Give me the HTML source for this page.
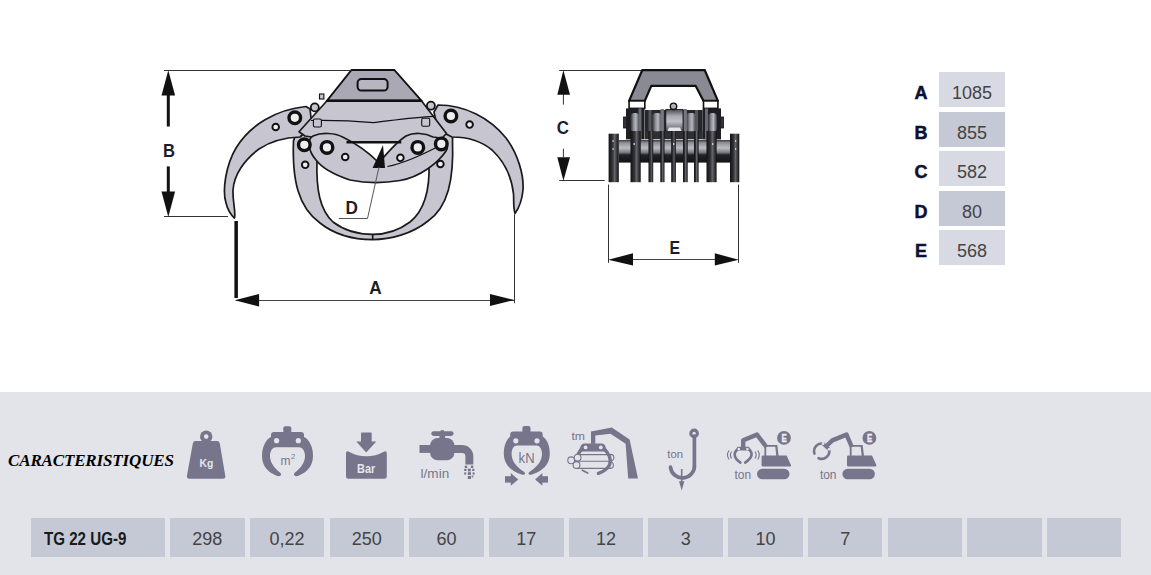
<!DOCTYPE html>
<html><head><meta charset="utf-8">
<style>
html,body{margin:0;padding:0;width:1151px;height:575px;overflow:hidden;background:#fff;font-family:"Liberation Sans",sans-serif;}
#wrap{position:relative;width:1151px;height:575px;}
.abs{position:absolute;}
#band{left:0;top:392px;width:1151px;height:183px;background:#e3e4e9;}
.cell{position:absolute;top:518px;height:39px;background:#c5c9d6;color:#444;font-size:18px;line-height:42px;text-align:center;}
.dim{position:absolute;left:939px;width:66px;height:35px;line-height:43px;text-align:center;font-size:18px;color:#444;}
.dl{position:absolute;left:912px;width:18px;height:35px;line-height:43px;text-align:center;font-size:18px;font-weight:bold;color:#0d1030;-webkit-text-stroke:0.5px #0d1030;}
#title{left:8px;top:450.5px;font:italic bold 17px "Liberation Serif",serif;color:#000;letter-spacing:-0.15px;white-space:nowrap;}
svg{position:absolute;left:0;top:0;}
</style></head>
<body><div id="wrap">
<div id="band" class="abs"></div>

<!-- dimension table -->
<div class="dl" style="top:72px">A</div><div class="dim" style="top:72px;background:#d8dae3">1085</div>
<div class="dl" style="top:111.5px">B</div><div class="dim" style="top:111.5px;background:#c5c9d6">855</div>
<div class="dl" style="top:151px">C</div><div class="dim" style="top:151px;background:#d8dae3">582</div>
<div class="dl" style="top:190.5px">D</div><div class="dim" style="top:190.5px;background:#c5c9d6">80</div>
<div class="dl" style="top:230px">E</div><div class="dim" style="top:230px;background:#d8dae3">568</div>

<div id="title" class="abs">CARACTERISTIQUES</div>

<!-- bottom table -->
<div class="cell" style="left:31px;width:134px;text-align:left;"><span style="display:inline-block;margin-left:13px;font-weight:bold;color:#1a1a1a;transform:scaleX(0.84);transform-origin:left center;">TG 22 UG-9</span></div>
<div class="cell" style="left:170px;width:74.7px">298</div>
<div class="cell" style="left:249.7px;width:74.7px">0,22</div>
<div class="cell" style="left:329.5px;width:74.7px">250</div>
<div class="cell" style="left:409.2px;width:74.7px">60</div>
<div class="cell" style="left:488.9px;width:74.7px">17</div>
<div class="cell" style="left:568.6px;width:74.7px">12</div>
<div class="cell" style="left:648.4px;width:74.7px">3</div>
<div class="cell" style="left:728.1px;width:74.7px">10</div>
<div class="cell" style="left:807.8px;width:74.7px">7</div>
<div class="cell" style="left:887.5px;width:74.7px"></div>
<div class="cell" style="left:967.3px;width:74.7px"></div>
<div class="cell" style="left:1047px;width:74px"></div>

<!-- DRAWINGS -->
<svg width="1151" height="392" viewBox="0 0 1151 392" id="draw">
<defs>
<linearGradient id="cyl" x1="0" y1="0" x2="0" y2="1">
<stop offset="0" stop-color="#3a3a40"/><stop offset="0.12" stop-color="#8e8e96"/><stop offset="0.35" stop-color="#bcbcc4"/><stop offset="0.55" stop-color="#7a7a82"/><stop offset="0.66" stop-color="#222226"/><stop offset="1" stop-color="#141418"/>
</linearGradient>
<linearGradient id="tooth" x1="0" y1="0" x2="1" y2="0">
<stop offset="0" stop-color="#111"/><stop offset="0.45" stop-color="#3a3a40"/><stop offset="0.55" stop-color="#6a6a72"/><stop offset="1" stop-color="#111"/>
</linearGradient>
</defs>
<!-- ===== LEFT SIDE VIEW ===== -->
<g stroke="#1a1a1a" stroke-width="1.7" fill="#c6c5d0" stroke-linejoin="round">
<!-- inner ring (lower jaws) -->
<path d="M293.5,140 C292,180 298,207 320,223 C335,235 355,239.6 372.7,239.6 C390,239.6 412,234 428,221 C448,207 454,180 452.5,140 A10.5,10.5 0 0 0 431,136 L429,163 C430,190 425,210 410,222 C398,231 385,234.4 372.7,234.4 C360,234.4 345,231 333,222 C320,210 316,190 317,160 L314,136 A10.5,10.5 0 0 0 294,140 Z"/>
<path d="M372.7,234.4 L372.7,239.6" fill="none"/>
<!-- outer left jaw -->
<path d="M306,106.5 C276,109.5 250,125 236,148 C226,165 222,190 226,203 C228,211 231,215 234.5,218 C236,212 232.5,202 233,190 C234,175 244,160 259,149 C271,141 285,137.5 300,137 L312,126 L310,109 Z"/>
<!-- outer right jaw -->
<path d="M438,105 C465,105 490,118 506,138 C518,154 524,175 523,190 C522,200 519,208 515,213.5 C513,207 514,200 513.5,194 C512,180 506,163 492,150 C480,140 465,137 452,137 L438,130 L434,112 Z"/>
<!-- housing -->
<path d="M327,100.7 L421.4,100.7 L446.5,133.5 L440,140 L401.3,142.2 L345,142.2 L305,136 L299,131.7 Z"/>
<!-- crescent -->
<path d="M313,136 C322,132 335,133 342.6,137 C355,143 368,152 377.5,161.5 L380,161.5 C388,152 398,141 406,136 C414,132 425,133 433,137 C445,138 450,145 446,151 C438,163 420,177 400,180.5 C385,183 365,183 350,180 C335,175 322,168 316,160 C309,152 306,140 313,136 Z"/>
</g>
<g fill="none" stroke="#111">
<path d="M346.5,142.2 L401.3,142.2" stroke-width="2.6"/>
<path d="M311,120.5 C335,120 355,121 373.4,122.6 C395,120 415,117 434,116.3" stroke-width="1.2"/>

<path d="M387.4,166.5 C400,164 420,156 439.6,145.7" stroke-width="1.2"/>
</g>
<!-- top plate -->
<path d="M351.5,70 L394.3,70 L421.4,100.7 L327,100.7 Z" fill="#a9a8b4" stroke="#111" stroke-width="1.8"/>
<path d="M327,100.7 L421.4,100.7" stroke="#111" stroke-width="2.6"/>
<rect x="357.6" y="79" width="30" height="11.6" rx="3.8" fill="#b6b5c0" stroke="#111" stroke-width="2"/>
<!-- rings -->
<g fill="#eeeef2" stroke="#111">
<circle cx="294.8" cy="117.8" r="5.8" stroke-width="3.4"/>
<circle cx="450.9" cy="116" r="5.8" stroke-width="3.4"/>
<circle cx="304.3" cy="144.8" r="5.8" stroke-width="3.4"/>
<circle cx="441.3" cy="143.9" r="5.8" stroke-width="3.4"/>
<circle cx="327" cy="147.4" r="5.8" stroke-width="3.4"/>
<circle cx="417.8" cy="147.4" r="5.8" stroke-width="3.4"/>
<circle cx="275.7" cy="127" r="3.3" stroke-width="1.9"/>
<circle cx="469.6" cy="124.6" r="3.3" stroke-width="1.9"/>
<circle cx="305.2" cy="164.8" r="3.3" stroke-width="1.9"/>
<circle cx="440.4" cy="164" r="3.3" stroke-width="1.9"/>
<circle cx="345.2" cy="157" r="3.3" stroke-width="1.9"/>
<circle cx="400.4" cy="157.8" r="3.3" stroke-width="1.9"/>
<circle cx="314.8" cy="107.4" r="4" stroke-width="1.8" fill="#c6c5d0"/>
<circle cx="430.9" cy="105.7" r="4" stroke-width="1.8" fill="#c6c5d0"/>
</g>
<g fill="#c6c5d0" stroke="#111" stroke-width="1.1">
<rect x="313.4" y="119" width="8" height="8" rx="1.5"/>
<rect x="421.7" y="118.2" width="8" height="8" rx="1.5"/>
<rect x="319.5" y="94" width="4.4" height="5"/>
</g>
<!-- D arrow + leader -->
<path d="M383,145 L372.6,168 L385,168 Z" fill="#111"/>
<path d="M338.9,218.5 L367.5,218.5 L379,167" fill="none" stroke="#555" stroke-width="1"/>
<!-- dimension B -->
<g stroke="#333" stroke-width="1" fill="none">
<path d="M164,70.5 L351.5,70.5"/>
<path d="M164,216.5 L228,216.5"/>
<path d="M514.5,214.3 L514.5,303.2"/>
<path d="M236,300.5 L514.5,300.5" stroke-width="1.2" stroke="#444"/>
</g>
<path d="M168.3,70.3 L161.5,95.5 L175.1,95.5 Z" fill="#111"/>
<rect x="166.8" y="94" width="3" height="32.5" fill="#111"/>
<rect x="166.8" y="166.4" width="3" height="26" fill="#111"/>
<path d="M161.5,191.5 L175.1,191.5 L168.3,217 Z" fill="#111"/>
<rect x="234.4" y="221" width="3.5" height="77" fill="#111"/>
<path d="M234.7,300.3 L259.1,294 L259.1,306.5 Z" fill="#111"/>
<path d="M514.5,300 L490,294 L490,306 Z" fill="#111"/>
<g font-family="Liberation Sans" font-weight="bold" font-size="18" fill="#1d1d28">
<text x="163" y="157" textLength="12" lengthAdjust="spacingAndGlyphs">B</text>
<text x="369.2" y="294.2" textLength="12.4" lengthAdjust="spacingAndGlyphs">A</text>
<text x="345.6" y="213.5" textLength="12.4" lengthAdjust="spacingAndGlyphs">D</text>
<text x="556.8" y="134.1" textLength="12.2" lengthAdjust="spacingAndGlyphs">C</text>
<text x="669.6" y="253.7" textLength="10.6" lengthAdjust="spacingAndGlyphs">E</text>
</g>
<!-- ===== RIGHT FRONT VIEW ===== -->
<g stroke="#333" stroke-width="1" fill="none">
<path d="M559.2,70.5 L642.2,70.5"/>
<path d="M559.2,180.5 L604.7,180.5"/>
<path d="M563.4,94 L563.4,104.6"/>
<path d="M563.4,148.7 L563.4,157.2"/>
<path d="M608.5,184.6 L608.5,262.9"/>
<path d="M738.5,184.6 L738.5,262.9"/>
<path d="M620,259.5 L728,259.5" stroke="#444" stroke-width="1.2"/>
</g>
<path d="M563.4,70.2 L557.3,94.8 L570,94.8 Z" fill="#111"/>
<path d="M557.3,157.2 L570,157.2 L563.4,180.8 Z" fill="#111"/>
<path d="M608.2,259.7 L633,253.3 L633,265.5 Z" fill="#111"/>
<path d="M738.7,259.7 L714.8,253.3 L714.8,265.5 Z" fill="#111"/>
<!-- bracket -->
<path d="M629.1,100.9 L642.2,70.2 L704.8,70.2 L717.9,100.9 L703.5,100.9 L695.7,85.9 L651.3,85.9 L644.8,100.9 Z" fill="#8a8a94" stroke="#111" stroke-width="2.2" stroke-linejoin="round"/>
<rect x="629.1" y="100.9" width="15.7" height="7.5" fill="#fff" stroke="#111" stroke-width="1.6"/>
<rect x="703.5" y="100.9" width="14.4" height="7.5" fill="#fff" stroke="#111" stroke-width="1.6"/>
<!-- mechanism -->
<defs>
<linearGradient id="disc" x1="0" y1="0" x2="1" y2="0">
<stop offset="0" stop-color="#2a2a30"/><stop offset="0.35" stop-color="#8e8e96"/><stop offset="0.6" stop-color="#b8b8c0"/><stop offset="1" stop-color="#3a3a40"/>
</linearGradient>
<linearGradient id="cyl2" x1="0" y1="0" x2="0" y2="1">
<stop offset="0" stop-color="#4a4a52"/><stop offset="0.3" stop-color="#a8a8b0"/><stop offset="0.55" stop-color="#c0c0c8"/><stop offset="1" stop-color="#56565e"/>
</linearGradient>
</defs>
<!-- left pivot -->
<rect x="623.5" y="117" width="3" height="11" fill="#333" stroke="#111" stroke-width="0.8"/>
<rect x="626" y="108.4" width="18.6" height="31" fill="#1e1e24"/>
<rect x="630.5" y="113" width="9" height="19" rx="4" fill="url(#disc)"/>
<rect x="638.5" y="108.4" width="3" height="31" fill="#6a6a72"/>
<!-- right pivot -->
<rect x="720.5" y="117" width="3" height="11" fill="#333" stroke="#111" stroke-width="0.8"/>
<rect x="702.6" y="108.4" width="18.4" height="31" fill="#1e1e24"/>
<rect x="708" y="113" width="9" height="19" rx="4" fill="url(#disc)"/>
<rect x="705" y="108.4" width="3" height="31" fill="#6a6a72"/>
<!-- center plates -->
<rect x="645" y="110" width="57.6" height="29" fill="#26262c"/>
<rect x="652" y="113" width="10" height="19" rx="4" fill="url(#disc)"/>
<rect x="686" y="113" width="10" height="19" rx="4" fill="url(#disc)"/>
<rect x="648.5" y="110" width="3" height="29" fill="#55555c"/>
<rect x="660.5" y="109" width="3.4" height="30" fill="#77777f"/>
<rect x="683.5" y="109" width="3.4" height="30" fill="#77777f"/>
<rect x="695" y="110" width="3" height="29" fill="#55555c"/>
<rect x="665.8" y="109.4" width="17.2" height="21.9" fill="url(#cyl2)" stroke="#111" stroke-width="0.8"/>
<path d="M667.5,131 L669,127.5 L680,127.5 L681.5,131 Z" fill="#e6e6ea"/>
<rect x="645" y="131.3" width="57.6" height="8" fill="#2e2e34"/>
<circle cx="673.5" cy="106.3" r="3.2" fill="#b0b0b8" stroke="#111" stroke-width="1.4"/>
<!-- roller -->
<rect x="618.8" y="140" width="111.2" height="22.6" fill="url(#cyl)"/>
<g fill="url(#tooth)">
<rect x="608.6" y="133.7" width="10.2" height="48.5"/>
<rect x="630.5" y="131" width="10.2" height="51.2"/>
<rect x="648.5" y="131" width="4.7" height="51.2"/>
<rect x="660.3" y="131" width="4.2" height="51.2"/>
<rect x="671.2" y="131" width="4.7" height="51.2"/>
<rect x="683" y="131" width="4.7" height="51.2"/>
<rect x="694" y="131" width="4.6" height="51.2"/>
<rect x="706.5" y="131" width="10.1" height="51.2"/>
<rect x="730" y="133.7" width="9.3" height="48.5"/>
</g>
<g fill="#c8c8d0">
<rect x="612.5" y="140" width="1.2" height="2"/><rect x="612.5" y="148" width="1.2" height="2"/>
<rect x="735" y="140" width="1.2" height="2"/><rect x="735" y="148" width="1.2" height="2"/>
<rect x="633.5" y="143" width="1.4" height="2"/><rect x="673" y="143" width="1.4" height="2"/>
<rect x="712" y="143" width="1.4" height="2"/>
</g>

</svg>

<!-- ICONS -->
<svg width="1151" height="575" viewBox="0 0 1151 575" id="icons">
<g fill="#77758b">
<!-- Kg -->
<circle cx="206.2" cy="436.6" r="6.2"/>
<circle cx="206.2" cy="436.6" r="2.3" fill="#e3e4e9"/>
<path d="M195.6,441 L217,441 Q219.4,441 219.8,443.4 L225.3,476 Q225.6,478.8 222.8,478.8 L189.4,478.8 Q186.6,478.8 186.9,476 L192.8,443.4 Q193.2,441 195.6,441 Z"/>
<text x="199.6" y="467" font-family="Liberation Sans" font-weight="bold" font-size="11.2" fill="#e6e6ec" textLength="13.8" lengthAdjust="spacingAndGlyphs">Kg</text>

<!-- m2 grapple -->
<rect x="283.3" y="426.2" width="8" height="8" rx="2"/>

<path d="M274,432 L301,432 Q304,432 304,435 L304,437 C310,440 313,448 313,456 C313,466 307,472 299,475.5 Q295,477 294,475 Q293.5,473.5 295,472.5 C301,468 305,462 305,456 C305,450 302,447.2 299,447.2 L276,447.2 C273,447.2 270,450 270,456 C270,462 274,468 280,472.5 Q281.5,473.5 281,475 Q280,477 276,475.5 C268,472 262,466 262,456 C262,448 265,440 271,437 L271,435 Q271,432 274,432 Z"/>
<circle cx="276.6" cy="440.7" r="2.6" fill="#e3e4e9"/>
<circle cx="298.3" cy="440.7" r="2.6" fill="#e3e4e9"/>
<text x="280.6" y="464.8" font-family="Liberation Sans" font-size="13.5" textLength="10" lengthAdjust="spacingAndGlyphs">m</text>
<text x="291" y="459" font-family="Liberation Sans" font-size="7.5">2</text>

<!-- Bar -->
<rect x="361" y="432.4" width="10.7" height="10" rx="0.8"/>
<path d="M356.3,441.5 L376.3,441.5 L366.2,452.4 Z"/>
<path d="M346,453.2 Q346,450.6 348.4,451.4 Q366.4,461.2 384.4,451.4 Q386.8,450.6 386.8,453.2 L386.8,476.6 Q386.8,478.8 384.6,478.8 L348.2,478.8 Q346,478.8 346,476.6 Z"/>
<text x="357" y="472.7" font-family="Liberation Sans" font-weight="bold" font-size="12" fill="#e6e6ec" textLength="18.2" lengthAdjust="spacingAndGlyphs">Bar</text>

<!-- tap l/min -->
<rect x="431.3" y="431.2" width="22.3" height="4.8" rx="2.4"/>
<rect x="440.6" y="430.2" width="3.4" height="2"/>
<rect x="439.4" y="435" width="5.8" height="4"/>
<rect x="430.1" y="438" width="24.3" height="22.3" rx="7.5"/>
<rect x="419.5" y="445" width="12" height="7.9"/>
<path d="M453,445 L462,445 A11.3,11.3 0 0 1 473.3,456.3 L473.3,464.4 L465.4,464.4 L465.4,456.3 A3.4,3.4 0 0 0 462,452.9 L453,452.9 Z"/>
<g>
<rect x="464.8" y="465.6" width="2.4" height="2.4"/><rect x="470.9" y="465.6" width="2.4" height="2.4"/>
<rect x="464.2" y="468.8" width="2.2" height="2.2"/><rect x="467.8" y="468.6" width="3" height="2.8"/><rect x="472.2" y="468.8" width="2.2" height="2.2"/>
<rect x="464.2" y="472.4" width="2" height="2.2"/><rect x="467.8" y="472.2" width="3.2" height="2.8"/><rect x="472.6" y="472.4" width="2" height="2.2"/>
<rect x="467.8" y="476" width="3.2" height="3"/><rect x="471.6" y="475.6" width="1.8" height="1.8"/>
</g>
<text x="420.6" y="478.4" font-family="Liberation Sans" font-size="12.5" textLength="28.6" lengthAdjust="spacingAndGlyphs">l/min</text>

<!-- kN grapple -->
<rect x="522.4" y="426.1" width="8.1" height="8" rx="2"/>

<path d="M513.2,431.6 L539.7,431.6 Q542.7,431.6 542.7,434.6 L542.7,436.5 C548,440 549.8,447 549.8,454 C549.8,464 543,471 532,474.5 Q529,475.5 528.5,473.8 Q528.3,472.5 530,471.5 C537,467 542,461 542,454 C542,449 539.5,445.6 536.5,445.6 L517,445.6 C514,445.6 511.6,449 511.6,454 C511.6,461 516.5,467 523.6,471.5 Q525.3,472.5 525.1,473.8 Q524.6,475.5 521.6,474.5 C510.6,471 503.8,464 503.8,454 C503.8,447 505.6,440 510.2,436.5 L510.2,434.6 Q510.2,431.6 513.2,431.6 Z"/>
<circle cx="515.8" cy="440.8" r="2.6" fill="#e3e4e9"/>
<circle cx="537" cy="440.8" r="2.6" fill="#e3e4e9"/>
<text x="518.6" y="462.7" font-family="Liberation Sans" font-size="14" textLength="16" lengthAdjust="spacingAndGlyphs">kN</text>
<rect x="505" y="476.2" width="7" height="6.4"/>
<path d="M510.8,473 L518.2,479.4 L510.8,485.8 Z"/>
<rect x="541" y="476.2" width="7" height="6.4"/>
<path d="M542.4,473 L535.1,479.4 L542.4,485.8 Z"/>

<!-- tm crane -->
<path d="M591,443.8 L591,431.4 L611.8,427.6 L629.6,439.4 L638,478.5 L628.2,478.5 L625.6,443.8 L610.5,433.8 L595.3,435.6 L595.3,443.8 Z"/>
<path d="M584,443.4 L602,443.4 Q604,443.4 605,445.4 L607.5,451.5 L578.5,451.5 L581,445.4 Q582,443.4 584,443.4 Z"/>
<path d="M583,448 Q576,454 577,462" fill="none" stroke="#77758b" stroke-width="3.6"/>
<path d="M603,448 Q612.5,456 609.5,465 Q606,471 598.4,473.4" fill="none" stroke="#77758b" stroke-width="3.4" stroke-linecap="round"/>
<path d="M582.4,470.2 L587.6,473" fill="none" stroke="#77758b" stroke-width="1.8" stroke-linecap="round"/>
<circle cx="585.6" cy="447.4" r="1.9" fill="#e3e4e9"/>
<circle cx="600.8" cy="447.4" r="1.9" fill="#e3e4e9"/>
<g fill="#e3e4e9" stroke="#77758b" stroke-width="1.1">
<path d="M578,454.6 L611,454.6 M579,461.2 L611,461.2 M576,468.4 L611,468.4" fill="none"/>
<circle cx="571.2" cy="460.3" r="3.4"/>
<circle cx="577.6" cy="457.6" r="3.4"/>
<circle cx="576.5" cy="465" r="3.4"/>
<path d="M610.5,454.4 A3.4,3.4 0 0 1 610.5,461.2" fill="none"/>
<path d="M610,461.6 A3.4,3.4 0 0 1 610,468.4" fill="none"/>
</g>
<text x="571.4" y="439.6" font-family="Liberation Sans" font-size="11.5" textLength="13.6" lengthAdjust="spacingAndGlyphs">tm</text>

<!-- hook -->
<circle cx="694.1" cy="433.4" r="4.8"/>
<circle cx="694.1" cy="433.4" r="1.7" fill="#e3e4e9"/>
<path d="M694.4,436 L694.4,464.5 A12,12 0 0 1 670.5,467.2" fill="none" stroke="#77758b" stroke-width="3.7" stroke-linecap="round"/>
<path d="M681.7,469 L681.7,483" stroke="#77758b" stroke-width="1.6"/>
<path d="M679,481.2 L684.4,481.2 L681.7,490.4 Z"/>
<text x="667.3" y="457.8" font-family="Liberation Sans" font-size="11.5" textLength="15.8" lengthAdjust="spacingAndGlyphs">ton</text>
</g>
<g fill="#77758b">
<!-- excavator 1 -->
<g id="exbase">
<circle cx="784" cy="437.9" r="6.9"/>
<text x="781.6" y="441.7" font-family="Liberation Sans" font-weight="bold" font-size="10.2" fill="#eeeef2" stroke="#eeeef2" stroke-width="0.3" textLength="5.3" lengthAdjust="spacingAndGlyphs">E</text>
<rect x="757" y="468.7" width="32.5" height="10.5" rx="5.25"/>
<path d="M763,455.6 L786.6,455.6 L790.9,465 Q791.4,466.5 789.8,466.5 L762.8,466.5 Q761.6,466.5 761.6,465.3 L761.6,457 Q761.6,455.6 763,455.6 Z"/>
<path d="M764.4,445 L777.3,445 L778.6,456 L764.4,456 Z M766.2,446.8 L775.3,446.8 L776.3,456 L766.2,456 Z" fill-rule="evenodd"/>
<text x="734.5" y="478.8" font-family="Liberation Sans" font-size="12" textLength="16.6" lengthAdjust="spacingAndGlyphs">ton</text>
</g>
<path d="M743.2,448 L743.2,440.2 L757,434.6 L766.4,447" fill="none" stroke="#77758b" stroke-width="4.4" stroke-linejoin="round"/>
<rect x="737" y="446.8" width="12.4" height="3.6" rx="1"/>
<path d="M737.6,449 Q730.6,455.5 740.4,462.6" fill="none" stroke="#77758b" stroke-width="2.6" stroke-linecap="round"/>
<path d="M748.8,449 Q755.8,455.5 745.2,462.6" fill="none" stroke="#77758b" stroke-width="2.6" stroke-linecap="round"/>
<circle cx="738.8" cy="449" r="1.3" fill="#e3e4e9"/>
<circle cx="747.4" cy="449" r="1.3" fill="#e3e4e9"/>
<g fill="none" stroke="#77758b" stroke-width="1.1">
<path d="M729,450.5 Q726,455 729,459.5"/><path d="M731.6,451.5 Q729.2,455 731.6,458.5"/>
<path d="M755,451.5 Q757.4,455 755,458.5"/><path d="M757.8,450.5 Q760.8,455 757.8,459.5"/>
</g>
<!-- excavator 2 -->
<use href="#exbase" x="85.4"/>
<path d="M827,445.5 L832.4,440.4 L846.5,434.6 L851.8,447" fill="none" stroke="#77758b" stroke-width="4.4" stroke-linejoin="round"/>
<path d="M823.1,443.7 L829,449.3" stroke="#77758b" stroke-width="3.4"/>
<path d="M823.1,443.7 A7.6,7.6 0 0 0 814.5,453.6" fill="none" stroke="#77758b" stroke-width="2.5" stroke-linecap="round"/>
<path d="M829,449.3 A7.6,7.6 0 0 1 818.6,458.2" fill="none" stroke="#77758b" stroke-width="2.6" stroke-linecap="round"/>
<circle cx="823.1" cy="443.7" r="1.4" fill="#e3e4e9"/>
<circle cx="829" cy="449.3" r="1.4" fill="#e3e4e9"/>
</g>

</svg>

</div></body></html>
